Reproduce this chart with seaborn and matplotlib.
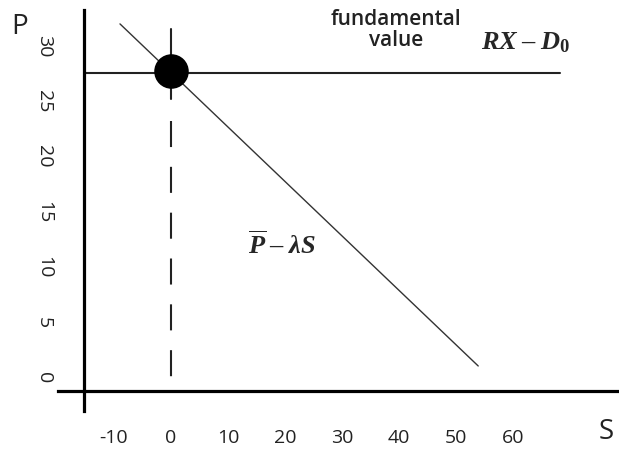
import matplotlib
matplotlib.use("Agg")
import matplotlib.pyplot as plt
import seaborn as sns
import pandas as pd

# demand line  P_bar - lambda*S
demand_s = [-8.95, 53.9]
demand_p = [31.9, 1.0]
# fundamental value line  RX - D0
fund_s = [-15.3, 68.2]
fund_p = [27.45, 27.45]
# equilibrium point and its guide line
eq_s = [0.0]
eq_p = [27.65]
guide_solid = [31.4, 25.1]
guide_dashed = [23.1, -1.26]

x_ticks = [-10, 0, 10, 20, 30, 40, 50, 60]
y_ticks = [0, 5, 10, 15, 20, 25, 30]

sns.set_style("white")
plt.rcParams["font.family"] = ["Open Sans", "DejaVu Sans"]
plt.rcParams["axes.unicode_minus"] = False
plt.rcParams["mathtext.fontset"] = "custom"
plt.rcParams["mathtext.it"] = "Liberation Serif:italic:bold"
plt.rcParams["mathtext.rm"] = "Liberation Serif:bold"
plt.rcParams["mathtext.bf"] = "Liberation Serif:bold"

fig = plt.figure(figsize=(6.19, 4.52), dpi=100)
ax = fig.add_axes([0, 0, 1, 1])
ax.set_xlim(-30, 78.6)
ax.set_ylim(-6.68, 34.15)

demand = pd.DataFrame({"S": demand_s, "P": demand_p})
sns.lineplot(data=demand, x="S", y="P", ax=ax, color="#333333", linewidth=1.0)

fund = pd.DataFrame({"S": fund_s, "P": fund_p})
sns.lineplot(data=fund, x="S", y="P", ax=ax, color="#222222", linewidth=1.5)

ax.plot([eq_s[0]] * 2, guide_solid, color="#222222", linewidth=1.5)
ax.plot([eq_s[0]] * 2, guide_dashed, color="#222222", linewidth=1.5,
        linestyle=(0, (12.5, 9.5)))

eq = pd.DataFrame({"S": eq_s, "P": eq_p})
sns.scatterplot(data=eq, x="S", y="P", ax=ax, s=530, color="black",
                edgecolor="black", zorder=5)

# axes drawn as crossing spines
for side in ["top", "right"]:
    ax.spines[side].set_visible(False)
ax.spines["left"].set_position(("data", -15.3))
ax.spines["bottom"].set_position(("data", -1.26))
ax.spines["left"].set_bounds(-3.07, 33.2)
ax.spines["bottom"].set_bounds(-19.8, 78.6)
for side in ["left", "bottom"]:
    ax.spines[side].set_linewidth(2.3)
    ax.spines[side].set_color("black")

ax.set_xticks(x_ticks)
ax.set_yticks(y_ticks)
ax.tick_params(axis="x", length=0, pad=27, labelsize=14, labelcolor="#222222")
ax.tick_params(axis="y", length=0, pad=22, labelsize=14, labelcolor="#222222",
               labelrotation=270)
for lab in ax.get_yticklabels():
    lab.set_va("center")
ax.set_xlabel("")
ax.set_ylabel("")

ax.text(-26.5, 31.7, "P", fontsize=20, ha="center", va="center", color="#222222")
ax.text(76.3, -4.87, "S", fontsize=20, ha="center", va="center", color="#222222")
ax.text(39.5, 31.44, "fundamental\nvalue", fontsize=15, fontweight="semibold",
        ha="center", va="center", linespacing=1.0, color="#222222")
ax.text(62.3, 30.3, "$RX\\;\u2013\\;D_0$", fontsize=19, ha="center", va="center")
ax.text(19.5, 11.9, "$\\overline{P}\\;\u2013\\;\\lambda S$", fontsize=19,
        ha="center", va="center")

plt.savefig("out.png", dpi=100)
plt.close()
